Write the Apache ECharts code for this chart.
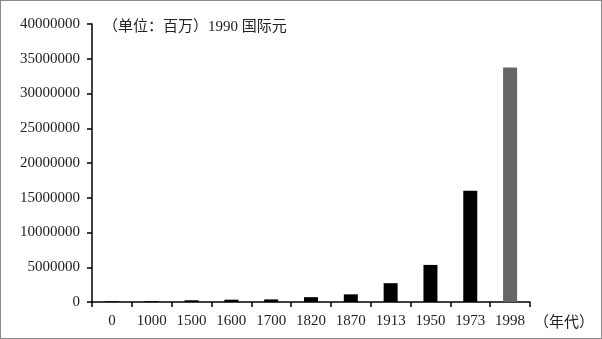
<!DOCTYPE html>
<html><head><meta charset="utf-8">
<script src="https://cdn.jsdelivr.net/npm/echarts@6/dist/echarts.min.js"></script>
<style>
html,body{margin:0;padding:0;background:#fff;}
#c{width:602px;height:339px;box-sizing:border-box;border:1px solid #8a8a8a;}
</style></head>
<body><div id="c"></div>
<script>
const categories = ['0','1000','1500','1600','1700','1820','1870','1913','1950','1973','1998'];
const gdp = [105402,116790,248445,331565,371369,694442,1101369,2704782,5336101,16022888,33725635];
const yTicks = [0,5000000,10000000,15000000,20000000,25000000,30000000,35000000,40000000];
const unitText = '（单位：百万）1990 国际元';
const xName = '（年代）';

const serif = '"Liberation Serif","DejaVu Serif","Noto Sans CJK SC",serif';
const chart = echarts.init(document.getElementById('c'));
chart.setOption({
  animation:false,
  backgroundColor:'#fff',
  title:{text:unitText,left:97,top:14,textStyle:{fontFamily:serif,fontSize:15,fontWeight:'normal',color:'#222'}},
  grid:{left:91,right:71,top:23,bottom:36,containLabel:false,outerBoundsMode:'none'},
  xAxis:{type:'category',data:categories,
    axisLine:{lineStyle:{color:'#000',width:1.5}},
    axisTick:{show:true,length:5,lineStyle:{color:'#000',width:1.5},alignWithLabel:false},
    axisLabel:{fontFamily:serif,fontSize:15,color:'#222',margin:12,interval:0},
    name:xName,nameLocation:'end',nameGap:4,
    nameTextStyle:{fontFamily:serif,fontSize:15,color:'#222',verticalAlign:'top',padding:[14,0,0,0]}
  },
  yAxis:{type:'value',min:yTicks[0],max:yTicks[yTicks.length-1],interval:5000000,
    axisLine:{show:true,lineStyle:{color:'#000',width:1.5}},
    axisTick:{show:true,length:5,lineStyle:{color:'#000',width:1.5}},
    splitLine:{show:false},
    axisLabel:{fontFamily:serif,fontSize:15,color:'#222',margin:12,formatter:v=>String(v)}
  },
  series:[{type:'bar',barWidth:14,
    data:gdp.map((v,i)=>({value:v,itemStyle:{color:i===gdp.length-1?'#666666':'#000000'}}))
  }]
});
</script></body></html>
